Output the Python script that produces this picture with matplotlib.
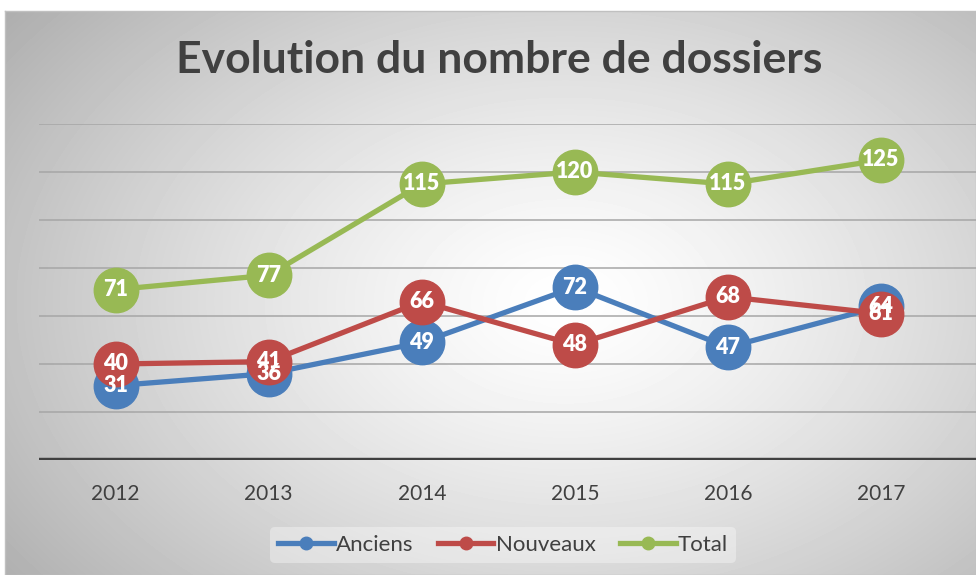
import matplotlib
matplotlib.use("Agg")
import matplotlib.pyplot as plt
import numpy as np

years = ["2012", "2013", "2014", "2015", "2016", "2017"]
anciens = [31, 36, 49, 72, 47, 64]
nouveaux = [40, 41, 66, 48, 68, 61]
total = [71, 77, 115, 120, 115, 125]

BLUE = "#4a7ebb"
RED = "#be4b48"
GREEN = "#98b954"
TXT = "#404040"
FONT = "Lato"

W, H = 976, 575
fig = plt.figure(figsize=(W / 100, H / 100), dpi=100)

# ---- radial gradient background ----
bg = fig.add_axes([5 / W, 0, (W - 5) / W, (H - 11) / H], zorder=-5)
yy, xx = np.mgrid[0:564, 0:971]
r = np.sqrt(((xx - 560) / 620.0) ** 2 + ((yy - 290) / 420.0) ** 2)
shade = 1.0 - 0.27 * np.clip(r, 0, 1.25) ** 1.3
bg.imshow(shade, cmap="gray", vmin=0, vmax=1, aspect="auto",
          extent=[0, 1, 0, 1], interpolation="bilinear")
bg.set_xlim(0, 1)
bg.set_ylim(0, 1)
for s in bg.spines.values():
    s.set_color("#c0c0c0")
    s.set_linewidth(1)
bg.set_xticks([])
bg.set_yticks([])

# ---- plot area ----
ax = fig.add_axes([39 / W, 115 / H, (W - 39) / W, 336 / H])
ax.patch.set_alpha(0)
x = np.arange(len(years))

ax.set_ylim(0, 140)
ax.set_xlim(-0.5, 5.62)
for g in range(20, 141, 20):
    ax.axhline(g, color="#a6a6a6", lw=1.1, zorder=1)
ax.axhline(0, color=TXT, lw=3.2, zorder=2)

series = [(total, GREEN, "Total", 3),
          (anciens, BLUE, "Anciens", 4),
          (nouveaux, RED, "Nouveaux", 5)]
for vals, col, name, z in series:
    ax.plot(x, vals, color=col, lw=3.8, marker="o", ms=32,
            solid_capstyle="round", zorder=z, label=name)

for vals, col, name, z in series:
    for xi, v in zip(x, vals):
        ax.text(xi, v, str(v), color="white", fontsize=15.5,
                fontweight="heavy", family=FONT, ha="center", va="center",
                zorder=10)

ax.set_xticks(x)
ax.set_xticklabels(years, fontsize=15, color=TXT, family=FONT)
ax.tick_params(axis="x", length=0, pad=17)
ax.set_yticks([])
for s in ax.spines.values():
    s.set_visible(False)

fig.text(499 / W, 1 - 60 / H, "Evolution du nombre de dossiers",
         ha="center", va="center", fontsize=32, fontweight="bold",
         color=TXT, family=FONT)

handles = [plt.Line2D([], [], color=c, lw=3.8, marker="o", ms=9)
           for c in (BLUE, RED, GREEN)]
leg = fig.legend(handles, ["Anciens", "Nouveaux", "Total"],
                 loc="center", bbox_to_anchor=(503 / W, 1 - 545 / H),
                 ncol=3, frameon=True,
                 prop={"family": FONT, "size": 16},
                 handlelength=2.5, handletextpad=0.1, columnspacing=1.1,
                 borderpad=0.35)
leg.get_frame().set_facecolor("white")
leg.get_frame().set_alpha(0.35)
leg.get_frame().set_edgecolor("none")
for t in leg.get_texts():
    t.set_color(TXT)

fig.savefig("out.png", dpi=100)
